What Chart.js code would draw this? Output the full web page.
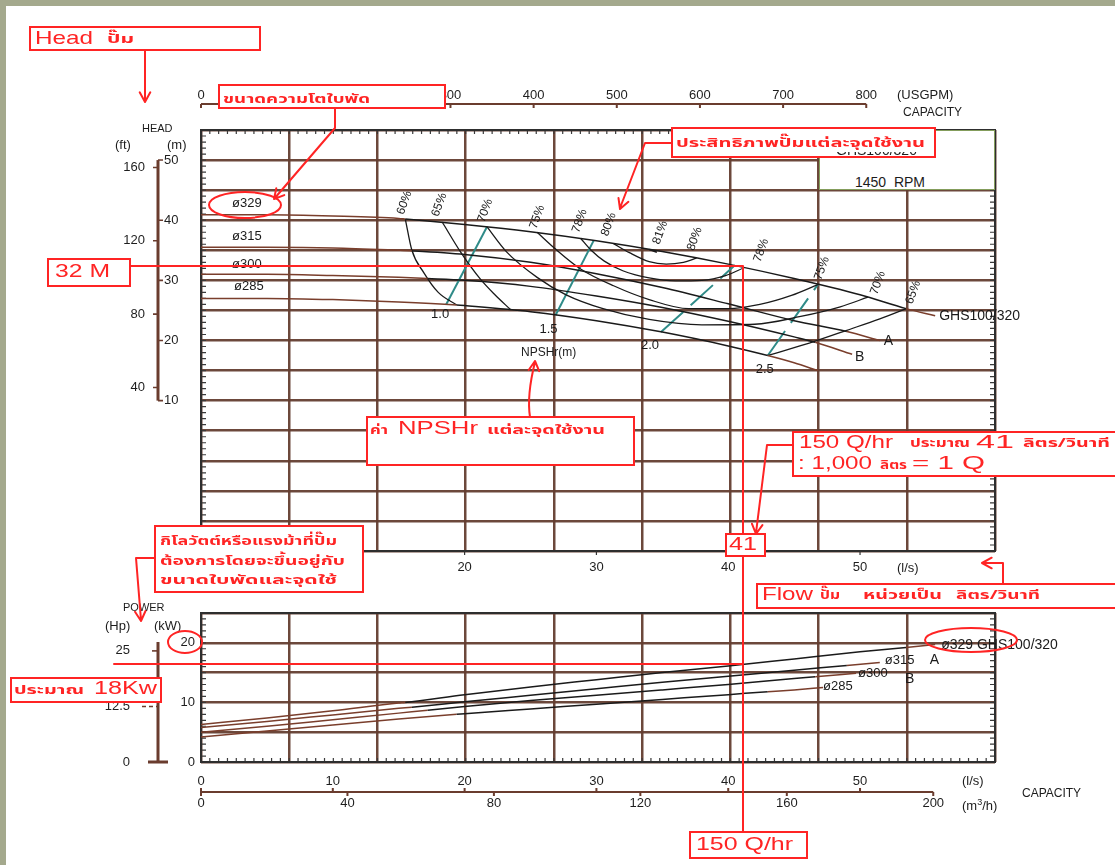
<!DOCTYPE html>
<html lang="th">
<head>
<meta charset="utf-8">
<title>GHS100/320 · 1450 RPM</title>
<script src="https://cdn.jsdelivr.net/npm/chart.js@4.4.1/dist/chart.umd.min.js"></script>
<style>
  html, body { margin: 0; padding: 0; }
  body { width: 1115px; height: 865px; position: relative; overflow: hidden; background: #a4a98d;
         font-family: "Liberation Sans", Arial, sans-serif; }
  #sheet { position: absolute; left: 6px; top: 6px; width: 1109px; height: 859px; background: #fff; }
  canvas { position: absolute; left: 0; }
  #cHead { top: 0; }
  #cPower { top: 560px; }
  .t { position: absolute; white-space: nowrap; color: #1c1c1c; line-height: 1; }
  #rpmBox { position: absolute; left: 819px; top: 130px; width: 176px; height: 60px; box-sizing: border-box;
            border: 1.5px solid #849d5c; background: #fff; }
  #overlay { position: absolute; left: 0; top: 0; }
  #model { z-index: 2; clip-path: inset(9px 0 0 0); }
</style>
</head>
<body>
<div id="sheet"></div>
<canvas id="cHead" width="1115" height="600"></canvas>
<canvas id="cPower" width="1115" height="305"></canvas>

<div id="rpmBox"></div>
<div class="t" style="left:855px;top:175px;font-size:14px;">1450&nbsp; RPM</div>

<div class="t" style="left:142px;top:123px;font-size:11px;">HEAD</div>
<div class="t" style="left:115px;top:138px;font-size:13px;">(ft)</div>
<div class="t" style="left:167px;top:138px;font-size:13px;">(m)</div>
<div class="t" style="left:897px;top:88px;font-size:13px;">(USGPM)</div>
<div class="t" style="left:903px;top:106px;font-size:12px;">CAPACITY</div>
<div class="t" style="left:897px;top:561px;font-size:13px;">(l/s)</div>
<div class="t" style="left:521px;top:346px;font-size:12px;">NPSHr(m)</div>

<div class="t" style="left:123px;top:602px;font-size:11px;">POWER</div>
<div class="t" style="left:105px;top:619px;font-size:13px;">(Hp)</div>
<div class="t" style="left:154px;top:619px;font-size:13px;">(kW)</div>
<div class="t" style="left:962px;top:774px;font-size:13px;">(l/s)</div>
<div class="t" style="left:962px;top:798px;font-size:13px;">(m<sup style="font-size:9px;">3</sup>/h)</div>
<div class="t" style="left:1022px;top:787px;font-size:12px;">CAPACITY</div>

<svg id="overlay" width="1115" height="865"></svg>
<div class="t" id="model" style="left:836px;top:143px;font-size:14px;">GHS100/320</div>

<script>
// ---------------- GHS100/320 at 1450 rpm ----------------
// flow Q in l/s, head H in m, shaft power P in kW

const Q_MAX = 60.24;                 // l/s at the right edge of both plots
const GPM_PER_LPS = 15.8503;
const M3H_PER_LPS = 3.6;
const FT_PER_M = 3.28084;
const HP_PER_KW = 1 / 0.7457;

const LPS_TICKS = [0, 10, 20, 30, 40, 50];
const GPM_TICKS = [0, 100, 200, 300, 400, 500, 600, 700, 800];
const M3H_TICKS = [0, 40, 80, 120, 160, 200];
const HEAD_M_TICKS = [10, 20, 30, 40, 50];
const HEAD_FT_TICKS = [40, 80, 120, 160];
const KW_TICKS = [0, 10, 20];
const HP_TICKS = [0, 12.5, 25];

// head curves per impeller diameter
const q329 = [0, 5, 10, 15, 15.5, 20, 25, 30, 35, 40, 45, 50, 53.5, 55.7];
const h329 = [40.9, 40.9, 40.7, 40.3, 40.2, 39.3, 38.1, 36.6, 34.8, 32.7, 30.3, 27.6, 25.3, 24.1];
const q315 = [0, 5, 10, 15, 16, 20, 25, 30, 35, 40, 45, 49, 51.5];
const h315 = [35.5, 35.5, 35.4, 35.0, 34.9, 34.3, 33.0, 31.1, 28.8, 26.1, 23.3, 21.5, 20.0];
const q300 = [0, 5, 10, 15, 17.2, 20, 25, 30, 35, 40, 45, 46.6, 49.4];
const h300 = [31.0, 31.0, 30.8, 30.5, 30.3, 30.0, 29.0, 27.4, 25.5, 23.2, 20.6, 19.7, 17.7];
const q285 = [0, 5, 10, 15, 19.4, 20, 25, 30, 35, 40, 43, 45, 46.8];
const h285 = [27.0, 27.0, 26.8, 26.4, 25.9, 25.8, 24.8, 23.3, 21.4, 19.1, 17.5, 16.3, 15.0];

// recommended operating range of each impeller (drawn black, brown outside)
const run329 = [15.5, 53.5];
const run315 = [16.0, 49.0];
const run300 = [17.2, 46.6];
const run285 = [19.4, 43.0];

// iso-efficiency lines
const e60q = [15.5, 16.0, 16.9, 18.0, 19.4];
const e60h = [40.2, 35.0, 31.3, 28.0, 25.9];
const e65q = [18.3, 19.7, 21.2, 22.3, 23.5];
const e65h = [39.7, 34.7, 30.2, 27.6, 25.1];
const e70q = [21.7, 23.2, 25.5, 27.7, 30.5, 34.0, 38.0, 42.0, 45.5, 48.5, 50.6];
const e70h = [38.9, 34.7, 30.5, 27.6, 25.3, 23.5, 22.6, 22.7, 24.0, 25.6, 27.2];
const e75q = [25.5, 26.9, 28.8, 31.3, 34.0, 37.0, 40.0, 42.4, 44.8, 46.8];
const e75h = [38.0, 35.2, 31.9, 29.1, 26.8, 25.3, 25.3, 26.0, 27.5, 29.3];
const e78q = [28.8, 29.6, 30.6, 32.0, 34.0, 36.0, 38.0, 39.8, 41.2];
const e78h = [37.0, 35.0, 33.2, 31.6, 30.4, 29.9, 30.0, 30.8, 32.1];
const e80q = [31.3, 32.5, 34.0, 35.3, 36.6, 37.6];
const e80h = [36.1, 34.6, 33.1, 32.7, 33.0, 33.7];
const e65rq = [43.0, 46.6, 49.0, 51.5, 53.5];
const e65rh = [17.5, 19.9, 21.7, 23.6, 25.3];
const bepQ = [34.3];
const bepH = [34.9];

// NPSHr lines (m)
const n10q = [18.6, 21.7], n10h = [26.0, 38.9];
const n15q = [26.9, 29.8], n15h = [24.2, 36.65];
const n20q = [34.9, 40.5], n20h = [21.4, 32.5];
const n25q = [43.0, 46.8], n25h = [17.5, 29.3];

// shaft power per impeller (kW)
const pq329 = [0, 5, 10, 15, 15.5, 20, 25, 30, 35, 40, 45, 50, 53.5, 55.7];
const p329  = [6.3, 7.4, 8.6, 9.9, 10.0, 11.3, 12.6, 13.8, 15.0, 16.1, 17.3, 18.5, 19.2, 19.7];
const pq315 = [0, 5, 10, 15, 16, 20, 25, 30, 35, 40, 45, 49, 51.5];
const p315  = [5.8, 6.8, 7.9, 9.0, 9.2, 10.1, 11.2, 12.3, 13.4, 14.4, 15.4, 16.2, 16.7];
const pq300 = [0, 5, 10, 15, 17.2, 20, 25, 30, 35, 40, 45, 46.6, 49.7];
const p300  = [5.0, 6.0, 7.1, 8.2, 8.7, 9.3, 10.3, 11.2, 12.1, 13.0, 14.0, 14.3, 14.9];
const pq285 = [0, 5, 10, 15, 19.4, 20, 25, 30, 35, 40, 43, 45, 47.2];
const p285  = [4.2, 5.2, 6.2, 7.2, 8.0, 8.1, 8.9, 9.7, 10.5, 11.3, 11.8, 12.1, 12.5];

// ---------------- styling ----------------
const FONT = '"Liberation Sans", Arial, sans-serif';
const NARROW = '"Liberation Sans Narrow", "Liberation Sans", Arial, sans-serif';
const INK = '#1a1a1a';
const BROWN = '#7a3e2c';
const GRID = 'rgba(100,62,48,0.95)';
const AXIS_BROWN = '#6a3c2e';
const TEAL = '#2f8b88';
const FRAME = '#2e2e2e';

Chart.defaults.font.family = FONT;
Chart.defaults.font.size = 13;
Chart.defaults.color = '#1e1e1e';

const pts = (qs, vs) => qs.map((q, i) => ({ x: q, y: vs[i] }));
const ticksAt = arr => s => { s.ticks = arr.map(v => ({ value: v })); };
const fixW = w => s => { s.width = w; };
const fixH = h => s => { s.height = h; };
const steps = (lo, hi, st) => { const a = []; for (let v = lo; v <= hi + 1e-9; v += st) a.push(+v.toFixed(6)); return a; };

function curve(key, qs, vs, run) {
  return {
    key, data: pts(qs, vs), borderColor: INK, borderWidth: 1.5, pointRadius: 0,
    cubicInterpolationMode: 'monotone',
    segment: {
      borderColor: c => (c.p0.parsed.x >= run[0] - 1e-6 && c.p1.parsed.x <= run[1] + 1e-6) ? INK : BROWN
    }
  };
}
function arc(key, qs, vs) {
  return { key, data: pts(qs, vs), borderColor: INK, borderWidth: 1.3, pointRadius: 0, cubicInterpolationMode: 'monotone' };
}
function npsh(key, qs, vs, dashed) {
  return { key, data: pts(qs, vs), borderColor: TEAL, borderWidth: 2, pointRadius: 0, borderDash: dashed ? [30, 10] : [] };
}

// frame, inward minor ticks and text placed at curve points
function decor(cfg) {
  return {
    id: 'decor_' + cfg.name,
    beforeDatasetsDraw(chart) {
      const { ctx, chartArea: a } = chart;
      ctx.save();
      ctx.strokeStyle = '#3a3a3a';
      ctx.lineWidth = 1.2;
      ctx.beginPath();
      for (const e of cfg.minor) {
        const sc = chart.scales[e.scale];
        const lo = e.from ?? sc.min, hi = e.to ?? sc.max;
        const n = Math.round((hi - lo) / e.step);
        for (let i = 0; i <= n; i++) {
          const p = sc.getPixelForValue(lo + i * e.step);
          if (e.side === 'top') { ctx.moveTo(p, a.top); ctx.lineTo(p, a.top + e.len); }
          else if (e.side === 'bottom') { ctx.moveTo(p, a.bottom); ctx.lineTo(p, a.bottom - e.len); }
          else if (e.side === 'left') { ctx.moveTo(a.left, p); ctx.lineTo(a.left + e.len, p); }
          else { ctx.moveTo(a.right, p); ctx.lineTo(a.right - e.len, p); }
        }
      }
      ctx.stroke();
      ctx.strokeStyle = FRAME;
      ctx.lineWidth = 2;
      ctx.strokeRect(a.left, a.top, a.right - a.left, a.bottom - a.top);
      ctx.restore();
    },
    afterDatasetsDraw(chart) {
      const { ctx } = chart;
      ctx.save();
      for (const L of cfg.labels) {
        const i = chart.data.datasets.findIndex(d => d.key === L.key);
        const els = chart.getDatasetMeta(i).data;
        const el = L.at === 'last' ? els[els.length - 1] : els[L.at];
        ctx.save();
        ctx.translate(el.x + L.dx, el.y + L.dy);
        if (L.rot) ctx.rotate(L.rot * Math.PI / 180);
        ctx.font = (L.size || 13) + 'px ' + (L.family || FONT);
        ctx.fillStyle = INK;
        ctx.textAlign = L.align || 'left';
        ctx.textBaseline = 'middle';
        ctx.fillText(L.text, 0, 0);
        ctx.restore();
      }
      ctx.restore();
    },
    afterDraw(chart) { cfg.extra(chart); }
  };
}

// ---------------- head / efficiency / NPSHr chart ----------------
function drawHeadAxes(chart) {
  const { ctx, chartArea: a, scales } = chart;
  const g = scales.xgpm, ym = scales.y, yf = scales.yft, x = scales.x;
  ctx.save();
  ctx.strokeStyle = AXIS_BROWN;
  ctx.lineWidth = 2;
  const yRule = 104;
  ctx.beginPath();
  ctx.moveTo(g.getPixelForValue(0), yRule); ctx.lineTo(g.getPixelForValue(800), yRule);
  GPM_TICKS.forEach(v => { const p = g.getPixelForValue(v); ctx.moveTo(p, yRule); ctx.lineTo(p, yRule + 4); });
  ctx.stroke();
  const xb = 158;
  ctx.lineWidth = 3;
  ctx.beginPath();
  ctx.moveTo(xb, ym.getPixelForValue(50)); ctx.lineTo(xb, ym.getPixelForValue(10));
  ctx.stroke();
  ctx.lineWidth = 1.6;
  ctx.beginPath();
  HEAD_M_TICKS.forEach(v => { const p = ym.getPixelForValue(v); ctx.moveTo(xb, p); ctx.lineTo(xb + 5, p); });
  HEAD_FT_TICKS.forEach(v => { const p = yf.getPixelForValue(v); ctx.moveTo(xb - 5, p); ctx.lineTo(xb, p); });
  ctx.stroke();
  ctx.strokeStyle = '#333';
  ctx.lineWidth = 1.2;
  ctx.beginPath();
  LPS_TICKS.forEach(v => { const p = x.getPixelForValue(v); ctx.moveTo(p, a.bottom); ctx.lineTo(p, a.bottom + 4); });
  ctx.stroke();
  ctx.restore();
}

const EFF = { rot: -70, size: 12, family: NARROW };
const headLabels = [
  { key: 'h329', at: 0, text: 'ø329', dx: 31, dy: -11 },
  { key: 'h315', at: 0, text: 'ø315', dx: 31, dy: -11 },
  { key: 'h300', at: 0, text: 'ø300', dx: 31, dy: -10 },
  { key: 'h285', at: 0, text: 'ø285', dx: 33, dy: -12 },
  { key: 'h329', at: 'last', text: 'GHS100/320', dx: 4, dy: 0, size: 14 },
  { key: 'h315', at: 'last', text: 'A', dx: 4, dy: 1, size: 14 },
  { key: 'h300', at: 'last', text: 'B', dx: 3, dy: 3, size: 14 },
  { key: 'n10', at: 0, text: '1.0', dx: -6, dy: 10, align: 'center' },
  { key: 'n15', at: 0, text: '1.5', dx: -7, dy: 14, align: 'center' },
  { key: 'n20', at: 0, text: '2.0', dx: -11, dy: 13, align: 'center' },
  { key: 'n25', at: 0, text: '2.5', dx: -3, dy: 14, align: 'center' },
  { key: 'e60', at: 0, text: '60%', dx: -5, dy: -5, ...EFF },
  { key: 'e65', at: 0, text: '65%', dx: -7, dy: -6, ...EFF },
  { key: 'e70', at: 0, text: '70%', dx: -6, dy: -5, ...EFF },
  { key: 'e75', at: 0, text: '75%', dx: -4, dy: -4, ...EFF },
  { key: 'e78', at: 0, text: '78%', dx: -5, dy: -6, ...EFF },
  { key: 'e80', at: 0, text: '80%', dx: -9, dy: -8, ...EFF },
  { key: 'bep', at: 0, text: '81%', dx: 3, dy: -7, ...EFF },
  { key: 'e80', at: 'last', text: '80%', dx: -6, dy: -8, ...EFF },
  { key: 'e78', at: 'last', text: '78%', dx: 13, dy: -6, ...EFF },
  { key: 'e75', at: 'last', text: '75%', dx: 0, dy: -5, ...EFF },
  { key: 'e70', at: 'last', text: '70%', dx: 6, dy: -3, ...EFF },
  { key: 'e65r', at: 'last', text: '65%', dx: 3, dy: -5, ...EFF }
];

new Chart(document.getElementById('cHead'), {
  type: 'line',
  data: {
    datasets: [
      curve('h329', q329, h329, run329),
      curve('h315', q315, h315, run315),
      curve('h300', q300, h300, run300),
      curve('h285', q285, h285, run285),
      arc('e60', e60q, e60h),
      arc('e65', e65q, e65h),
      arc('e70', e70q, e70h),
      arc('e75', e75q, e75h),
      arc('e78', e78q, e78h),
      arc('e80', e80q, e80h),
      arc('e65r', e65rq, e65rh),
      npsh('n10', n10q, n10h, false),
      npsh('n15', n15q, n15h, false),
      npsh('n20', n20q, n20h, true),
      npsh('n25', n25q, n25h, true),
      { key: 'bep', type: 'scatter', data: pts(bepQ, bepH), pointStyle: 'line', pointRadius: 4,
        rotation: 20, borderColor: INK, borderWidth: 1.5, showLine: false }
    ]
  },
  options: {
    responsive: false, animation: false, devicePixelRatio: 1,
    layout: { padding: { left: 100, right: 120, top: 90, bottom: 19 } },
    plugins: { legend: { display: false }, tooltip: { enabled: false } },
    scales: {
      x: { type: 'linear', position: 'bottom', weight: 1, min: 0, max: Q_MAX,
           afterBuildTicks: ticksAt(LPS_TICKS), afterFit: fixH(30),
           ticks: { padding: 9, autoSkip: false, maxRotation: 0 },
           grid: { drawOnChartArea: false, drawTicks: false }, border: { display: false } },
      xg: { type: 'linear', position: 'bottom', weight: 2, min: 0, max: 9,
            afterBuildTicks: ticksAt(steps(0, 9, 1)), afterFit: fixH(0),
            ticks: { display: false }, grid: { color: GRID, lineWidth: 2.5, drawTicks: false }, border: { display: false } },
      xgpm: { type: 'linear', position: 'top', min: 0, max: Q_MAX * GPM_PER_LPS,
              afterBuildTicks: ticksAt(GPM_TICKS), afterFit: fixH(40),
              ticks: { padding: 27, autoSkip: false, maxRotation: 0 },
              grid: { drawOnChartArea: false, drawTicks: false }, border: { display: false } },
      y: { type: 'linear', position: 'left', weight: 1, min: -15, max: 55,
           afterBuildTicks: ticksAt(steps(-15, 55, 5)), afterFit: fixW(37),
           ticks: { autoSkip: false, crossAlign: 'far', padding: 0,
                    callback: v => HEAD_M_TICKS.includes(v) ? String(v) : '' },
           grid: { color: GRID, lineWidth: 2.5, drawTicks: false }, border: { display: false } },
      yft: { type: 'linear', position: 'left', weight: 2, min: -15 * FT_PER_M, max: 55 * FT_PER_M,
             afterBuildTicks: ticksAt(HEAD_FT_TICKS), afterFit: fixW(64),
             ticks: { autoSkip: false, padding: 19 },
             grid: { drawOnChartArea: false, drawTicks: false }, border: { display: false } }
    }
  },
  plugins: [decor({
    name: 'head',
    minor: [
      { scale: 'xg', side: 'top', step: 0.1, len: 4 },
      { scale: 'y', side: 'left', step: 1, len: 5 },
      { scale: 'y', side: 'right', step: 1, len: 5, from: -15, to: 45 }
    ],
    labels: headLabels,
    extra: drawHeadAxes
  })]
});

// ---------------- power chart ----------------
function drawPowerAxes(chart) {
  const { ctx, chartArea: a, scales } = chart;
  const m3 = scales.xm3, x = scales.x, yk = scales.y, hp = scales.yhp;
  ctx.save();
  ctx.strokeStyle = AXIS_BROWN;
  ctx.lineWidth = 2;
  const yRule = a.bottom + 30;
  ctx.beginPath();
  ctx.moveTo(m3.getPixelForValue(0), yRule); ctx.lineTo(m3.getPixelForValue(200), yRule);
  LPS_TICKS.forEach(v => { const p = x.getPixelForValue(v); ctx.moveTo(p, yRule); ctx.lineTo(p, yRule - 4); });
  M3H_TICKS.forEach(v => { const p = m3.getPixelForValue(v); ctx.moveTo(p, yRule); ctx.lineTo(p, yRule + 4); });
  ctx.stroke();
  const xb = 158;
  ctx.lineWidth = 3;
  ctx.beginPath();
  ctx.moveTo(xb, hp.getPixelForValue(27)); ctx.lineTo(xb, yk.getPixelForValue(0));
  ctx.moveTo(xb - 10, yk.getPixelForValue(0)); ctx.lineTo(xb + 10, yk.getPixelForValue(0));
  ctx.stroke();
  ctx.lineWidth = 1.6;
  ctx.beginPath();
  const p25 = hp.getPixelForValue(25);
  ctx.moveTo(xb - 6, p25); ctx.lineTo(xb, p25);
  ctx.stroke();
  ctx.setLineDash([4, 3]);
  ctx.beginPath();
  const p125 = hp.getPixelForValue(12.5);
  ctx.moveTo(xb - 16, p125); ctx.lineTo(xb, p125);
  ctx.stroke();
  ctx.restore();
}

const powerLabels = [
  { key: 'p329', at: 'last', text: 'ø329 GHS100/320', dx: 6, dy: 1, size: 14 },
  { key: 'p315', at: 'last', text: 'ø315', dx: 5, dy: -2 },
  { key: 'p315', at: 'last', text: 'A', dx: 50, dy: -2, size: 14 },
  { key: 'p300', at: 'last', text: 'ø300', dx: 2, dy: 0 },
  { key: 'p300', at: 'last', text: 'B', dx: 49, dy: 6, size: 14 },
  { key: 'p285', at: 'last', text: 'ø285', dx: 0, dy: -1 }
];

new Chart(document.getElementById('cPower'), {
  type: 'line',
  data: {
    datasets: [
      curve('p329', pq329, p329, run329),
      curve('p315', pq315, p315, run315),
      curve('p300', pq300, p300, run300),
      curve('p285', pq285, p285, run285)
    ]
  },
  options: {
    responsive: false, animation: false, devicePixelRatio: 1,
    layout: { padding: { left: 100, right: 120, top: 53, bottom: 33 } },
    plugins: { legend: { display: false }, tooltip: { enabled: false } },
    scales: {
      x: { type: 'linear', position: 'bottom', weight: 1, min: 0, max: Q_MAX,
           afterBuildTicks: ticksAt(LPS_TICKS), afterFit: fixH(30),
           ticks: { padding: 12, autoSkip: false, maxRotation: 0 },
           grid: { drawOnChartArea: false, drawTicks: false }, border: { display: false } },
      xm3: { type: 'linear', position: 'bottom', weight: 2, min: 0, max: Q_MAX * M3H_PER_LPS,
             afterBuildTicks: ticksAt(M3H_TICKS), afterFit: fixH(40),
             ticks: { padding: 4, autoSkip: false, maxRotation: 0 },
             grid: { drawOnChartArea: false, drawTicks: false }, border: { display: false } },
      xg: { type: 'linear', position: 'bottom', weight: 3, min: 0, max: 9,
            afterBuildTicks: ticksAt(steps(0, 9, 1)), afterFit: fixH(0),
            ticks: { display: false }, grid: { color: GRID, lineWidth: 2.5, drawTicks: false }, border: { display: false } },
      y: { type: 'linear', position: 'left', weight: 1, min: 0, max: 25,
           afterBuildTicks: ticksAt(steps(0, 25, 5)), afterFit: fixW(37),
           ticks: { autoSkip: false, padding: 6, callback: v => KW_TICKS.includes(v) ? String(v) : '' },
           grid: { color: GRID, lineWidth: 2.5, drawTicks: false }, border: { display: false } },
      yhp: { type: 'linear', position: 'left', weight: 2, min: 0, max: 25 * HP_PER_KW,
             afterBuildTicks: ticksAt(HP_TICKS), afterFit: fixW(64),
             ticks: { autoSkip: false, padding: 34 },
             grid: { drawOnChartArea: false, drawTicks: false }, border: { display: false } }
    }
  },
  plugins: [decor({
    name: 'power',
    minor: [
      { scale: 'xg', side: 'bottom', step: 0.1, len: 4 },
      { scale: 'y', side: 'left', step: 1, len: 5 },
      { scale: 'y', side: 'right', step: 1, len: 5 }
    ],
    labels: powerLabels,
    extra: drawPowerAxes
  })]
});

// ---------------- red notes ----------------
const RED = '#ff2424';
const LATIN = '"Liberation Sans", Arial, sans-serif';
const THAI = '"Noto Sans Thai", "Noto Looped Thai", Loma, Garuda, "Tlwg Typo", "Liberation Sans", sans-serif';
const parts = [];
const path = d => parts.push(`<path d="${d}" fill="none" stroke="${RED}" stroke-width="2" stroke-linecap="round" stroke-linejoin="round"/>`);
const rect = (x, y, w, h) => parts.push(`<rect x="${x}" y="${y}" width="${w}" height="${h}" fill="#fff" stroke="${RED}" stroke-width="2"/>`);
const ell = (cx, cy, rx, ry) => parts.push(`<ellipse cx="${cx}" cy="${cy}" rx="${rx}" ry="${ry}" fill="none" stroke="${RED}" stroke-width="2"/>`);
const txt = (x, y, s, size, w, thai) => parts.push(
  `<text x="${x}" y="${y}" font-size="${size}" ${thai ? 'font-weight="bold"' : ''} font-family='${thai ? THAI : LATIN}' fill="${RED}" textLength="${w}" lengthAdjust="spacingAndGlyphs">${s}</text>`);
function head(x1, y1, x2, y2) {
  const a = Math.atan2(y2 - y1, x2 - x1), L = 11, s = 0.5;
  const p1 = [x2 - L * Math.cos(a - s), y2 - L * Math.sin(a - s)];
  const p2 = [x2 - L * Math.cos(a + s), y2 - L * Math.sin(a + s)];
  return `M${p1[0].toFixed(1)} ${p1[1].toFixed(1)}L${x2} ${y2}L${p2[0].toFixed(1)} ${p2[1].toFixed(1)}`;
}

path('M130 266H743V832');
path('M114 664H743');

rect(30, 27, 230, 23);
rect(219, 85, 226, 23);
rect(672, 128, 263, 29);
rect(48, 259, 82, 27);
rect(367, 417, 267, 48);
rect(793, 432, 330, 44);
rect(726, 534, 39, 22);
rect(757, 584, 370, 24);
rect(155, 526, 208, 66);
rect(11, 678, 150, 24);
rect(690, 832, 117, 26);

path('M145 50V101' + head(145, 50, 145, 102));
path('M335 108V128L274 199' + head(335, 128, 274, 199));
path('M672 143H645L620 208' + head(645, 143, 620, 209));
path('M530 417C527 398 531 378 535 362' + head(533, 380, 535, 361));
path('M793 445H767L756 533' + head(767, 445, 756, 534));
path('M1003 584V563H983' + head(1003, 563, 982, 563));
path('M155 558H136L141 620' + head(136, 558, 141, 621));

ell(245, 205, 36, 13);
ell(185, 642, 17, 11);
ell(971, 640, 46, 12);

txt(35, 44, 'Head', 19, 58);
txt(107, 43, 'ปั๊ม', 13, 27, 1);
txt(223, 103, 'ขนาดความโตใบพัด', 13, 147, 1);
txt(676, 147, 'ประสิทธิภาพปั๊มแต่ละจุดใช้งาน', 13, 249, 1);
txt(55, 277, '32 M', 19, 55);
txt(370, 434, 'ค่า', 13, 18, 1);
txt(398, 434, 'NPSHr', 19, 80);
txt(487, 434, 'แต่ละจุดใช้งาน', 13, 118, 1);
txt(799, 448, '150 Q/hr', 18, 94);
txt(910, 447, 'ประมาณ', 13, 60, 1);
txt(976, 448, '41', 18, 38);
txt(1023, 447, 'ลิตร/วินาที', 13, 87, 1);
txt(798, 469, ': 1,000', 18, 74);
txt(880, 469, 'ลิตร', 13, 27, 1);
txt(912, 469, '= 1 Q', 18, 73);
txt(729, 550, '41', 18, 28);
txt(762, 600, 'Flow', 18, 51);
txt(820, 599, 'ปั๊ม', 13, 20, 1);
txt(863, 599, 'หน่วยเป็น', 13, 79, 1);
txt(956, 599, 'ลิตร/วินาที', 13, 84, 1);
txt(160, 545, 'กิโลวัตต์หรือแรงม้าที่ปั๊ม', 13, 177, 1);
txt(160, 565, 'ต้องการโดยจะขึ้นอยู่กับ', 13, 185, 1);
txt(160, 584, 'ขนาดใบพัดและจุดใช้', 13, 177, 1);
txt(14, 694, 'ประมาณ', 13, 70, 1);
txt(94, 694, '18Kw', 18, 63);
txt(696, 850, '150 Q/hr', 18, 97);

document.getElementById('overlay').innerHTML = parts.join('');
</script>
</body>
</html>
